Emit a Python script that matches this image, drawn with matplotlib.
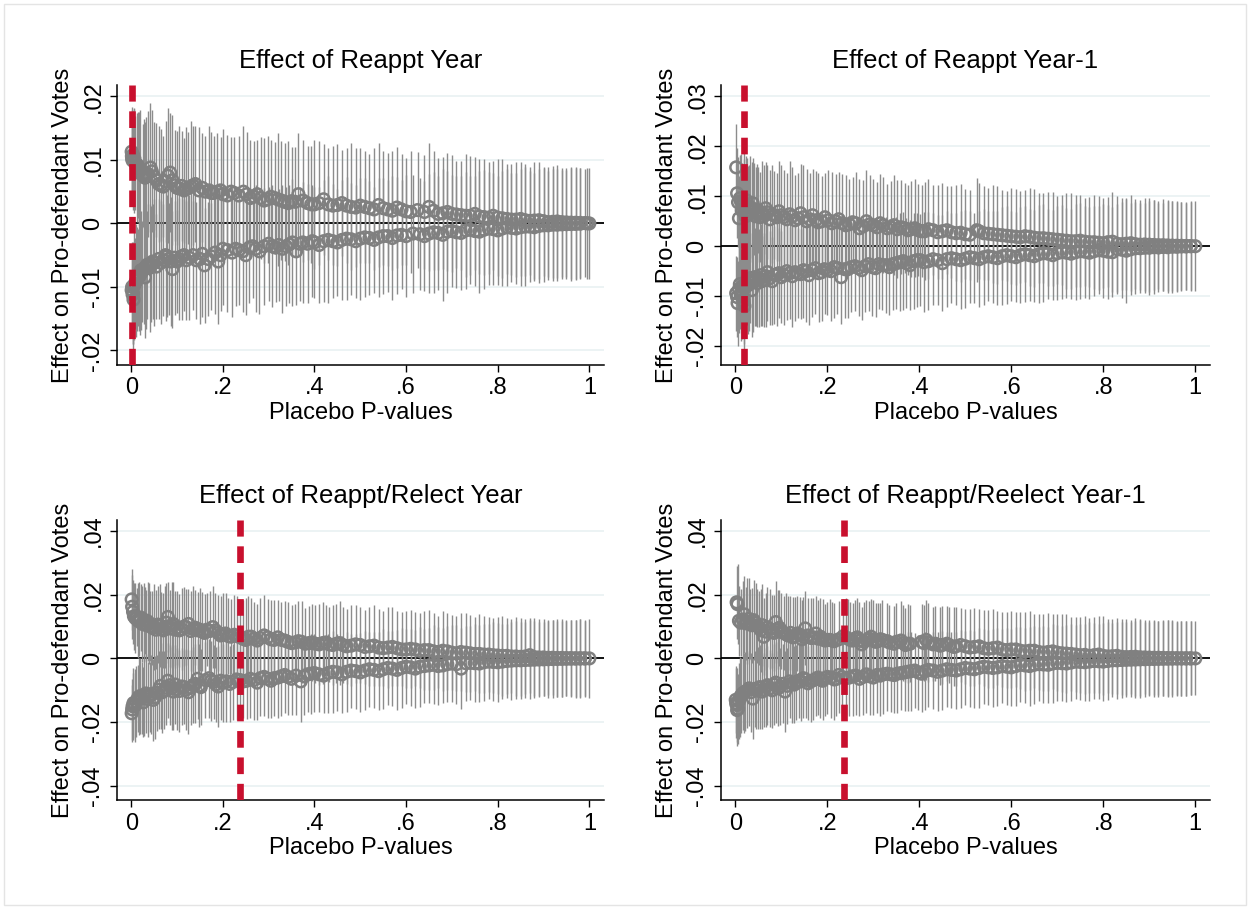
import matplotlib
matplotlib.use("Agg")
import numpy as np
import matplotlib.pyplot as plt
from matplotlib.patches import Rectangle

plt.rcParams['font.family'] = ['Liberation Sans', 'DejaVu Sans']
plt.rcParams['lines.scale_dashes'] = False

# placebo estimates, one (p-value, estimate, CI half width) per run; effects in thousandths
reappt_up = [(0.001, 11.3, 7.0), (0.002, 10.2, 7.5), (0.004, 10.8, 6.8), (0.006, 9.8, 8.2), (0.009, 9.5, 7.4),
             (0.012, 8.8, 8.6), (0.016, 8.0, 7.9), (0.02, 8.4, 9.5), (0.025, 7.6, 8.1), (0.03, 7.2, 8.8),
             (0.036, 7.8, 9.9), (0.042, 8.8, 10.2), (0.05, 7.4, 8.5), (0.06, 6.2, 9.2), (0.07, 5.8, 8.0),
             (0.08, 7.5, 10.6), (0.085, 8.0, 9.4), (0.095, 6.0, 8.7), (0.105, 5.5, 9.8), (0.115, 5.2, 8.3),
             (0.13, 5.8, 10.4), (0.14, 6.2, 9.1), (0.155, 5.6, 8.6), (0.17, 5.2, 10.1), (0.18, 4.8, 9.0),
             (0.195, 5.2, 8.4), (0.21, 4.4, 9.6), (0.225, 4.8, 8.8), (0.245, 5.0, 10.3), (0.26, 4.0, 9.2),
             (0.275, 4.6, 8.5), (0.29, 3.6, 9.9), (0.305, 4.2, 8.9), (0.32, 3.8, 10.5), (0.335, 3.4, 9.3),
             (0.35, 3.5, 8.6), (0.365, 4.6, 9.7), (0.385, 3.2, 9.0), (0.4, 3.0, 10.2), (0.42, 3.8, 8.7),
             (0.44, 2.8, 9.4), (0.46, 3.2, 8.3), (0.48, 2.6, 10.0), (0.5, 2.8, 9.1), (0.52, 2.4, 8.6),
             (0.54, 2.9, 9.8), (0.56, 2.2, 8.9), (0.58, 2.5, 9.5), (0.6, 1.9, 8.4), (0.625, 2.1, 9.2),
             (0.65, 2.6, 10.1), (0.67, 1.5, 8.8), (0.69, 1.8, 9.3), (0.71, 1.4, 8.5), (0.73, 1.2, 9.7),
             (0.75, 1.5, 8.9), (0.77, 1.0, 9.1), (0.79, 1.2, 8.6), (0.81, 0.8, 9.4), (0.83, 0.6, 8.8),
             (0.85, 0.7, 9.0), (0.87, 0.4, 8.5), (0.89, 0.5, 9.2), (0.91, 0.2, 8.7), (0.93, 0.3, 8.9),
             (0.95, 0.15, 8.6), (0.97, 0.1, 8.8), (0.99, 0.05, 8.5), (1.0, 0.0, 8.7),
             (0.0015, 10.6, 7.2), (0.003, 9.9, 7.8), (0.007, 10.2, 8.0), (0.014, 9.2, 8.4), (0.018, 8.6, 9.0),
             (0.028, 7.9, 8.6), (0.033, 7.4, 9.4), (0.045, 8.2, 9.6), (0.055, 6.8, 9.0), (0.065, 6.0, 8.8),
             (0.075, 6.6, 9.6), (0.09, 6.8, 10.2), (0.1, 5.6, 9.0), (0.11, 5.9, 8.6), (0.12, 5.4, 9.8),
             (0.125, 5.6, 8.8), (0.135, 6.0, 9.4), (0.148, 5.2, 10.0), (0.162, 5.0, 8.8), (0.175, 4.8, 9.6),
             (0.188, 5.0, 9.2), (0.2, 4.6, 10.2), (0.218, 5.0, 8.6), (0.235, 4.4, 9.4), (0.252, 4.6, 9.8),
             (0.268, 4.2, 8.8), (0.283, 4.0, 9.6), (0.298, 3.8, 10.0), (0.313, 4.0, 8.8), (0.328, 3.6, 9.4),
             (0.343, 3.2, 9.8), (0.358, 3.4, 8.6), (0.375, 3.6, 9.6), (0.393, 3.0, 9.2), (0.41, 3.2, 9.8),
             (0.43, 3.0, 8.8), (0.45, 2.9, 9.6), (0.47, 2.8, 9.0), (0.49, 2.5, 9.4), (0.51, 2.6, 8.8),
             (0.53, 2.2, 9.6), (0.55, 2.4, 9.0), (0.57, 2.0, 9.4), (0.59, 2.2, 8.8), (0.61, 1.8, 9.6),
             (0.64, 1.8, 9.0), (0.66, 2.0, 9.4), (0.68, 1.6, 8.8), (0.7, 1.5, 9.2), (0.72, 1.3, 8.6),
             (0.74, 1.2, 9.4), (0.76, 1.1, 9.0), (0.78, 0.9, 8.8), (0.8, 0.9, 9.2), (0.82, 0.7, 8.6),
             (0.84, 0.6, 9.0), (0.86, 0.5, 8.8), (0.88, 0.45, 9.2), (0.9, 0.35, 8.6), (0.92, 0.25, 8.8),
             (0.94, 0.2, 8.6), (0.96, 0.12, 8.8), (0.98, 0.08, 8.6), (0.995, 0.02, 8.7)]
reappt_lo = [(0.001, -10.5, 6.5), (0.003, -11.2, 7.8), (0.005, -12.0, 8.4), (0.008, -9.5, 7.2), (0.011, -9.0, 8.9),
             (0.015, -8.5, 7.6), (0.019, -8.2, 9.3), (0.024, -7.6, 8.0), (0.03, -8.5, 9.6), (0.035, -6.5, 8.5),
             (0.04, -7.0, 10.1), (0.047, -6.0, 9.0), (0.055, -6.8, 8.3), (0.065, -6.2, 9.7), (0.075, -5.0, 10.4),
             (0.082, -5.6, 8.8), (0.09, -7.2, 9.2), (0.1, -6.0, 8.1), (0.11, -5.2, 10.0), (0.12, -5.8, 9.4),
             (0.135, -5.0, 8.6), (0.15, -5.6, 10.3), (0.16, -6.6, 9.1), (0.175, -5.2, 8.4), (0.19, -6.0, 9.8),
             (0.2, -4.0, 8.9), (0.22, -4.6, 10.2), (0.235, -4.2, 8.7), (0.25, -5.0, 9.5), (0.265, -3.6, 8.2),
             (0.28, -4.4, 9.9), (0.3, -3.2, 9.0), (0.315, -3.8, 8.6), (0.33, -4.0, 10.1), (0.345, -3.3, 9.3),
             (0.36, -4.4, 8.5), (0.375, -3.0, 9.6), (0.395, -2.8, 8.8), (0.41, -3.4, 9.2), (0.43, -2.6, 10.0),
             (0.45, -3.0, 8.4), (0.47, -2.4, 9.7), (0.49, -2.8, 8.9), (0.51, -2.2, 9.4), (0.53, -2.6, 8.3),
             (0.55, -2.0, 9.1), (0.57, -2.3, 9.8), (0.59, -1.8, 8.6), (0.615, -1.6, 9.3), (0.64, -2.0, 8.7),
             (0.66, -1.4, 9.5), (0.68, -1.8, 10.4), (0.7, -1.2, 8.8), (0.72, -1.5, 9.0), (0.74, -1.0, 8.5),
             (0.76, -1.3, 9.6), (0.78, -0.8, 8.9), (0.8, -1.1, 8.6), (0.82, -0.6, 9.2), (0.84, -0.8, 8.7),
             (0.86, -0.5, 9.4), (0.88, -0.6, 8.5), (0.9, -0.3, 9.0), (0.92, -0.2, 8.8), (0.94, -0.15, 8.6),
             (0.96, -0.1, 8.9), (0.98, -0.05, 8.7),
             (0.002, -10.0, 7.0), (0.004, -11.0, 8.0), (0.006, -9.8, 8.6), (0.013, -8.8, 8.2), (0.017, -8.0, 9.0),
             (0.021, -7.4, 9.4), (0.027, -7.2, 8.6), (0.032, -6.8, 9.8), (0.043, -6.4, 9.2), (0.05, -6.2, 10.0),
             (0.06, -5.6, 9.4), (0.07, -5.8, 8.8), (0.078, -5.2, 9.6), (0.086, -6.0, 10.2), (0.095, -5.4, 9.0),
             (0.105, -5.6, 9.6), (0.115, -5.0, 8.8), (0.127, -5.4, 9.8), (0.142, -5.8, 9.2), (0.155, -4.8, 10.0),
             (0.168, -5.6, 9.0), (0.183, -4.6, 9.6), (0.195, -5.0, 8.8), (0.21, -4.2, 9.8), (0.228, -4.0, 9.0),
             (0.243, -4.4, 9.6), (0.258, -3.8, 8.8), (0.272, -4.0, 10.0), (0.29, -3.6, 9.2), (0.308, -3.6, 9.6),
             (0.322, -3.4, 8.8), (0.338, -3.6, 9.4), (0.352, -3.0, 10.0), (0.368, -3.2, 9.0), (0.385, -3.2, 9.4),
             (0.4, -3.0, 8.8), (0.42, -2.8, 9.6), (0.44, -2.8, 9.0), (0.46, -2.6, 9.4), (0.48, -2.5, 8.8),
             (0.5, -2.4, 9.6), (0.52, -2.3, 9.0), (0.54, -2.2, 9.4), (0.56, -2.0, 8.8), (0.58, -1.9, 9.2),
             (0.6, -2.0, 9.6), (0.63, -1.7, 8.8), (0.65, -1.6, 9.4), (0.67, -1.5, 9.0), (0.69, -1.3, 9.6),
             (0.71, -1.4, 8.8), (0.73, -1.1, 9.2), (0.75, -1.2, 8.6), (0.77, -1.0, 9.4), (0.79, -0.9, 8.8),
             (0.81, -0.8, 9.0), (0.83, -0.7, 8.6), (0.85, -0.6, 9.2), (0.87, -0.5, 8.8), (0.89, -0.4, 9.0),
             (0.91, -0.3, 8.6), (0.93, -0.2, 8.8), (0.95, -0.12, 8.6), (0.97, -0.08, 8.8)]

reappt1_up = [(0.002, 15.8, 8.7), (0.004, 10.6, 9.0), (0.008, 5.6, 8.5), (0.012, 9.0, 9.4), (0.016, 8.2, 8.2),
              (0.02, 7.6, 9.8), (0.024, 9.2, 8.8), (0.028, 6.4, 9.6), (0.033, 7.8, 10.2), (0.038, 8.6, 9.0),
              (0.044, 6.0, 9.8), (0.05, 7.2, 8.6), (0.058, 6.6, 10.4), (0.066, 7.6, 9.2), (0.075, 5.4, 9.8),
              (0.085, 6.2, 8.8), (0.095, 7.0, 10.0), (0.105, 5.8, 9.4), (0.118, 6.4, 10.6), (0.13, 5.2, 9.0),
              (0.142, 6.6, 9.8), (0.155, 5.0, 10.4), (0.168, 6.2, 9.2), (0.18, 4.8, 9.8), (0.195, 5.8, 8.8),
              (0.21, 4.6, 10.2), (0.225, 5.4, 9.4), (0.24, 4.2, 10.0), (0.255, 4.8, 9.0), (0.27, 3.6, 9.8),
              (0.285, 5.0, 10.2), (0.3, 4.2, 9.2), (0.315, 4.6, 9.8), (0.33, 3.6, 8.8), (0.345, 4.2, 10.0),
              (0.36, 3.8, 9.4), (0.375, 3.2, 9.0), (0.39, 3.6, 9.8), (0.405, 3.0, 9.2), (0.42, 3.4, 10.0),
              (0.44, 2.8, 9.4), (0.46, 3.2, 8.8), (0.48, 2.6, 9.6), (0.5, 2.4, 9.0), (0.525, 3.2, 10.4),
              (0.54, 2.6, 9.4), (0.56, 2.4, 9.8), (0.58, 2.2, 9.0), (0.6, 2.0, 9.6), (0.62, 1.8, 9.2),
              (0.64, 1.9, 9.8), (0.66, 1.6, 9.0), (0.68, 1.5, 9.4), (0.7, 1.3, 8.8), (0.72, 1.1, 9.6),
              (0.74, 1.0, 9.2), (0.76, 0.9, 8.8), (0.78, 0.8, 9.4), (0.8, 0.6, 9.0), (0.82, 0.9, 10.0),
              (0.84, 0.4, 9.2), (0.86, 0.6, 9.6), (0.88, 0.3, 9.0), (0.9, 0.3, 9.4), (0.92, 0.2, 8.8),
              (0.94, 0.15, 9.2), (0.96, 0.1, 9.0), (0.98, 0.05, 8.8), (1.0, 0.0, 9.0),
              (0.006, 8.8, 9.0), (0.01, 9.6, 8.6), (0.014, 7.2, 9.4), (0.018, 8.8, 9.8), (0.022, 6.0, 8.8),
              (0.026, 8.0, 9.6), (0.03, 7.2, 9.0), (0.036, 6.8, 10.0), (0.041, 7.4, 9.2), (0.047, 6.6, 9.8),
              (0.054, 5.8, 9.0), (0.062, 6.0, 10.2), (0.07, 6.8, 9.4), (0.08, 6.4, 9.8), (0.09, 5.8, 8.8),
              (0.1, 6.2, 10.0), (0.112, 5.4, 9.2), (0.124, 6.0, 9.8), (0.136, 5.6, 9.0), (0.148, 5.8, 10.4),
              (0.162, 5.4, 9.2), (0.175, 5.2, 9.8), (0.188, 5.0, 9.0), (0.202, 5.2, 10.0), (0.218, 5.0, 9.4),
              (0.232, 4.6, 9.8), (0.248, 4.4, 9.0), (0.262, 4.6, 10.2), (0.278, 4.0, 9.2), (0.292, 4.4, 9.8),
              (0.308, 3.8, 9.0), (0.322, 4.2, 9.6), (0.338, 3.8, 9.2), (0.352, 3.4, 9.8), (0.368, 3.6, 9.0),
              (0.382, 3.4, 9.6), (0.398, 3.2, 9.2), (0.412, 3.0, 9.8), (0.43, 3.2, 9.0), (0.45, 3.0, 9.6),
              (0.47, 2.8, 9.2), (0.49, 2.7, 9.8), (0.51, 2.3, 9.0), (0.53, 3.0, 9.6), (0.55, 2.5, 9.2),
              (0.57, 2.3, 9.8), (0.59, 2.1, 9.0), (0.61, 1.9, 9.6), (0.63, 2.0, 9.2), (0.65, 1.7, 9.8),
              (0.67, 1.6, 9.0), (0.69, 1.4, 9.4), (0.71, 1.2, 9.0), (0.73, 1.0, 9.6), (0.75, 1.1, 9.2),
              (0.77, 0.8, 9.0), (0.79, 0.7, 9.4), (0.81, 0.8, 9.0), (0.83, 0.5, 9.6), (0.85, 0.5, 9.2),
              (0.87, 0.4, 9.0), (0.89, 0.35, 9.4), (0.91, 0.25, 9.0), (0.93, 0.2, 9.2), (0.95, 0.12, 9.0),
              (0.97, 0.08, 8.8), (0.99, 0.02, 9.0)]
reappt1_lo = [(0.002, -9.4, 7.5), (0.005, -11.4, 8.5), (0.01, -7.6, 9.0), (0.014, -9.0, 9.6), (0.018, -11.0, 8.6),
              (0.022, -8.2, 9.8), (0.026, -6.6, 9.2), (0.03, -7.0, 10.0), (0.036, -8.8, 9.4), (0.042, -6.2, 9.8),
              (0.048, -7.4, 8.8), (0.055, -5.8, 10.2), (0.062, -6.8, 9.4), (0.07, -5.2, 9.8), (0.08, -7.0, 8.8),
              (0.09, -5.6, 10.4), (0.1, -6.2, 9.2), (0.112, -5.0, 9.8), (0.124, -6.0, 10.2), (0.136, -5.4, 9.0),
              (0.148, -4.8, 9.6), (0.16, -5.8, 10.0), (0.174, -4.4, 9.2), (0.188, -5.2, 9.8), (0.2, -4.8, 9.0),
              (0.215, -4.2, 10.2), (0.23, -6.2, 9.4), (0.245, -4.6, 9.8), (0.26, -4.0, 9.0), (0.275, -4.8, 10.0),
              (0.29, -3.6, 9.4), (0.305, -4.4, 9.8), (0.32, -3.8, 9.0), (0.335, -4.2, 9.6), (0.35, -3.4, 9.2),
              (0.365, -3.0, 9.8), (0.38, -3.8, 9.0), (0.395, -2.8, 9.4), (0.41, -3.2, 10.0), (0.43, -2.6, 9.2),
              (0.45, -3.4, 9.6), (0.47, -2.4, 9.0), (0.49, -2.8, 9.8), (0.51, -2.2, 9.2), (0.53, -2.6, 9.6),
              (0.55, -2.0, 9.0), (0.57, -2.4, 9.4), (0.59, -1.8, 9.8), (0.61, -2.2, 9.0), (0.63, -1.6, 9.6),
              (0.65, -2.0, 9.2), (0.67, -1.4, 9.8), (0.69, -1.8, 9.0), (0.71, -1.2, 9.4), (0.73, -1.5, 9.0),
              (0.75, -1.0, 9.6), (0.77, -1.3, 9.2), (0.79, -0.8, 8.8), (0.81, -1.1, 9.4), (0.83, -0.6, 9.0),
              (0.85, -0.9, 10.4), (0.87, -0.4, 9.2), (0.89, -0.3, 9.0), (0.91, -0.2, 9.4), (0.93, -0.15, 8.8),
              (0.95, -0.1, 9.2), (0.97, -0.05, 9.0), (0.99, 0.0, 8.8),
              (0.004, -10.2, 8.0), (0.008, -8.6, 8.8), (0.012, -9.8, 9.2), (0.016, -8.0, 9.6), (0.02, -12.0, 8.6),
              (0.024, -7.6, 9.4), (0.028, -7.8, 9.8), (0.033, -6.4, 9.0), (0.039, -7.2, 10.0), (0.045, -6.8, 9.2),
              (0.052, -6.4, 9.8), (0.058, -7.0, 9.0), (0.066, -6.0, 10.2), (0.075, -6.4, 9.4), (0.085, -5.8, 9.8),
              (0.095, -5.4, 9.0), (0.106, -5.8, 10.0), (0.118, -5.4, 9.2), (0.13, -5.2, 9.8), (0.142, -5.6, 9.0),
              (0.154, -5.0, 10.2), (0.167, -4.8, 9.4), (0.181, -5.4, 9.8), (0.194, -4.6, 9.0), (0.208, -5.0, 10.0),
              (0.222, -4.4, 9.2), (0.238, -4.6, 9.8), (0.252, -4.2, 9.0), (0.268, -4.4, 9.6), (0.282, -4.0, 9.2),
              (0.298, -4.2, 9.8), (0.312, -3.6, 9.0), (0.328, -3.8, 9.6), (0.342, -3.6, 9.2), (0.358, -3.2, 9.8),
              (0.372, -3.4, 9.0), (0.388, -3.0, 9.6), (0.402, -2.8, 9.2), (0.42, -3.0, 9.8), (0.44, -2.8, 9.0),
              (0.46, -2.6, 9.6), (0.48, -2.6, 9.2), (0.5, -2.5, 9.8), (0.52, -2.4, 9.0), (0.54, -2.2, 9.6),
              (0.56, -2.2, 9.2), (0.58, -2.0, 9.8), (0.6, -2.0, 9.0), (0.62, -1.8, 9.6), (0.64, -1.8, 9.2),
              (0.66, -1.6, 9.8), (0.68, -1.5, 9.0), (0.7, -1.4, 9.4), (0.72, -1.3, 9.0), (0.74, -1.2, 9.6),
              (0.76, -1.1, 9.2), (0.78, -1.0, 9.0), (0.8, -0.9, 9.4), (0.82, -1.2, 9.0), (0.84, -0.7, 9.6),
              (0.86, -0.6, 9.2), (0.88, -0.4, 9.0), (0.9, -0.3, 9.4), (0.92, -0.25, 9.0), (0.94, -0.2, 9.2),
              (0.96, -0.12, 9.0), (0.98, -0.06, 8.8)]

relect_up = [(0.001, 18.5, 9.5), (0.002, 16.2, 10.0), (0.006, 13.2, 10.5), (0.012, 13.0, 9.0), (0.018, 12.4, 11.5),
             (0.024, 10.8, 12.0), (0.03, 12.0, 10.5), (0.036, 11.6, 12.5), (0.042, 10.2, 11.0), (0.05, 9.8, 13.5),
             (0.058, 10.6, 12.0), (0.066, 9.2, 11.5), (0.074, 9.8, 12.8), (0.08, 13.0, 11.0), (0.088, 10.4, 13.5),
             (0.096, 9.0, 12.0), (0.105, 8.8, 11.5), (0.115, 10.0, 12.5), (0.125, 10.8, 11.0), (0.135, 9.2, 13.5),
             (0.145, 8.8, 12.0), (0.155, 8.4, 12.5), (0.165, 9.0, 11.5), (0.178, 9.8, 12.8), (0.19, 8.0, 11.8),
             (0.2, 7.6, 13.0), (0.212, 7.0, 12.0), (0.225, 7.4, 12.6), (0.238, 6.6, 11.8), (0.25, 5.8, 13.2),
             (0.262, 6.8, 12.0), (0.275, 5.6, 11.4), (0.29, 7.2, 12.8), (0.305, 6.0, 12.2), (0.32, 6.6, 11.6),
             (0.335, 5.6, 12.4), (0.35, 4.8, 11.8), (0.365, 5.4, 12.6), (0.38, 4.6, 11.2), (0.395, 5.0, 12.0),
             (0.41, 4.4, 12.8), (0.425, 5.0, 11.6), (0.44, 4.2, 12.4), (0.455, 4.8, 13.2), (0.47, 3.8, 11.8),
             (0.49, 4.4, 12.2), (0.51, 3.6, 11.6), (0.53, 4.0, 12.6), (0.55, 3.2, 11.8), (0.57, 3.6, 12.4),
             (0.59, 2.8, 11.6), (0.61, 3.0, 12.2), (0.63, 2.4, 11.8), (0.65, 2.6, 12.6), (0.67, 2.0, 11.4),
             (0.69, 2.2, 12.0), (0.71, 1.6, 11.8), (0.73, 1.8, 12.4), (0.75, 1.4, 11.6), (0.77, 1.2, 12.2),
             (0.79, 1.0, 11.8), (0.81, 0.8, 12.6), (0.83, 0.6, 11.6), (0.85, 0.5, 12.2), (0.87, 1.0, 11.8),
             (0.89, 0.3, 12.0), (0.91, 0.2, 11.6), (0.93, 0.15, 12.2), (0.95, 0.1, 11.8), (0.97, 0.05, 12.0),
             (1.0, 0.0, 12.4),
             (0.004, 14.6, 10.0), (0.009, 12.6, 11.0), (0.015, 11.8, 11.8), (0.021, 12.8, 10.6), (0.027, 11.2, 12.4),
             (0.033, 10.4, 11.2), (0.039, 11.0, 12.8), (0.046, 9.6, 11.6), (0.054, 9.0, 12.4), (0.062, 10.2, 13.0),
             (0.07, 8.8, 11.8), (0.077, 11.2, 12.6), (0.084, 9.4, 12.0), (0.092, 10.8, 13.2), (0.1, 9.6, 11.6),
             (0.11, 9.2, 12.8), (0.12, 9.8, 12.0), (0.13, 8.6, 12.6), (0.14, 9.6, 11.8), (0.15, 9.0, 13.0),
             (0.16, 8.0, 12.2), (0.172, 8.6, 12.6), (0.184, 8.8, 11.8), (0.195, 7.2, 12.4), (0.206, 7.8, 12.8),
             (0.218, 6.8, 11.8), (0.232, 7.0, 12.6), (0.244, 6.2, 12.0), (0.256, 6.8, 12.8), (0.268, 6.2, 11.6),
             (0.282, 6.4, 12.4), (0.298, 6.6, 12.0), (0.312, 5.8, 12.6), (0.328, 5.8, 11.8), (0.342, 5.2, 12.4),
             (0.358, 5.0, 12.0), (0.372, 5.2, 12.8), (0.388, 4.8, 11.6), (0.402, 4.6, 12.2), (0.418, 4.8, 12.8),
             (0.432, 4.4, 11.8), (0.448, 4.6, 12.4), (0.462, 4.2, 12.0), (0.48, 4.0, 12.6), (0.5, 4.2, 11.8),
             (0.52, 3.8, 12.4), (0.54, 3.4, 12.0), (0.56, 3.4, 12.6), (0.58, 3.2, 11.8), (0.6, 2.8, 12.2),
             (0.62, 2.8, 11.6), (0.64, 2.6, 12.4), (0.66, 2.2, 12.0), (0.68, 2.4, 12.6), (0.7, 1.8, 11.8),
             (0.72, 2.0, 12.2), (0.74, 1.6, 12.0), (0.76, 1.4, 12.4), (0.78, 1.2, 11.8), (0.8, 0.9, 12.2),
             (0.82, 0.8, 12.0), (0.84, 0.6, 12.4), (0.86, 0.6, 11.8), (0.88, 0.4, 12.2), (0.9, 0.3, 12.0),
             (0.92, 0.2, 11.8), (0.94, 0.15, 12.2), (0.96, 0.1, 12.0), (0.98, 0.05, 12.2), (0.99, 0.02, 11.8)]
relect_lo = [(0.001, -17.2, 9.0), (0.003, -15.0, 10.5), (0.008, -14.8, 11.5), (0.014, -12.6, 10.5), (0.02, -11.8, 12.0),
             (0.026, -13.8, 11.0), (0.032, -11.0, 12.5), (0.04, -12.0, 11.0), (0.048, -13.0, 12.8), (0.056, -10.8, 12.0),
             (0.064, -8.6, 13.5), (0.072, -10.0, 12.2), (0.08, -7.0, 11.8), (0.088, -9.4, 13.0), (0.096, -8.2, 12.4),
             (0.105, -10.2, 12.8), (0.115, -9.0, 11.6), (0.125, -10.6, 13.2), (0.135, -8.4, 12.0), (0.145, -6.4, 12.6),
             (0.152, -9.0, 11.8), (0.17, -6.2, 12.4), (0.18, -7.4, 11.6), (0.19, -8.8, 12.8), (0.2, -7.6, 12.2),
             (0.215, -8.0, 11.8), (0.23, -6.6, 12.6), (0.245, -7.2, 11.4), (0.26, -6.4, 12.2), (0.275, -7.6, 11.8),
             (0.29, -5.8, 12.4), (0.305, -7.0, 11.6), (0.32, -6.0, 12.8), (0.335, -5.2, 12.0), (0.35, -6.4, 11.4),
             (0.37, -7.2, 12.6), (0.385, -5.0, 11.8), (0.4, -4.6, 12.2), (0.42, -5.4, 11.6), (0.44, -4.2, 12.8),
             (0.46, -5.0, 12.0), (0.48, -3.8, 11.6), (0.5, -4.4, 12.4), (0.52, -3.4, 11.8), (0.54, -4.0, 12.2),
             (0.56, -3.0, 11.6), (0.58, -3.6, 12.6), (0.6, -2.6, 11.8), (0.62, -3.2, 12.2), (0.64, -2.4, 11.6),
             (0.66, -2.0, 12.4), (0.68, -2.2, 11.8), (0.7, -1.6, 12.0), (0.72, -3.2, 12.6), (0.74, -1.4, 11.6),
             (0.76, -1.6, 12.2), (0.78, -1.0, 11.8), (0.8, -1.2, 12.4), (0.82, -0.8, 11.6), (0.84, -0.6, 12.2),
             (0.86, -0.5, 11.8), (0.88, -0.4, 12.0), (0.9, -0.3, 11.6), (0.92, -0.2, 12.2), (0.94, -0.15, 11.8),
             (0.96, -0.1, 12.0), (0.98, -0.05, 12.4),
             (0.002, -16.0, 9.6), (0.005, -14.0, 11.0), (0.011, -13.6, 11.2), (0.017, -12.0, 12.0), (0.023, -12.4, 11.4),
             (0.029, -11.6, 12.6), (0.036, -12.8, 11.8), (0.044, -11.2, 12.4), (0.052, -12.2, 13.0), (0.06, -9.8, 12.2),
             (0.068, -10.6, 12.8), (0.076, -9.2, 11.8), (0.084, -8.4, 12.6), (0.092, -10.4, 12.0), (0.1, -9.6, 13.0),
             (0.11, -8.8, 12.2), (0.12, -9.8, 12.6), (0.13, -9.2, 11.8), (0.14, -8.0, 12.4), (0.148, -8.6, 13.0),
             (0.162, -6.8, 12.0), (0.175, -7.0, 12.6), (0.185, -8.2, 11.8), (0.195, -7.0, 12.4), (0.208, -7.2, 12.8),
             (0.222, -7.4, 11.8), (0.238, -6.8, 12.4), (0.252, -7.0, 12.0), (0.268, -6.8, 12.6), (0.282, -6.2, 11.8),
             (0.298, -6.4, 12.4), (0.312, -6.2, 12.0), (0.328, -5.6, 12.6), (0.342, -5.8, 11.8), (0.36, -5.4, 12.4),
             (0.378, -5.6, 12.0), (0.392, -4.8, 12.6), (0.41, -5.0, 11.8), (0.43, -4.6, 12.4), (0.45, -4.4, 12.0),
             (0.47, -4.2, 12.6), (0.49, -4.0, 11.8), (0.51, -3.8, 12.4), (0.53, -3.6, 12.0), (0.55, -3.4, 12.6),
             (0.57, -3.2, 11.8), (0.59, -3.0, 12.4), (0.61, -2.8, 12.0), (0.63, -2.6, 12.6), (0.65, -2.2, 11.8),
             (0.67, -2.4, 12.2), (0.69, -1.8, 12.0), (0.71, -1.8, 12.4), (0.73, -1.5, 11.8), (0.75, -1.5, 12.2),
             (0.77, -1.2, 12.0), (0.79, -1.1, 12.4), (0.81, -1.0, 11.8), (0.83, -0.7, 12.2), (0.85, -0.6, 12.0),
             (0.87, -0.45, 12.4), (0.89, -0.35, 11.8), (0.91, -0.25, 12.2), (0.93, -0.18, 12.0), (0.95, -0.12, 11.8),
             (0.97, -0.07, 12.2), (0.99, -0.02, 12.0)]

reelect1_up = [(0.003, 17.6, 11.5), (0.005, 17.0, 12.5), (0.012, 11.2, 10.5), (0.02, 13.8, 12.0), (0.026, 11.6, 13.5),
               (0.032, 10.8, 11.0), (0.04, 12.0, 12.5), (0.048, 10.2, 11.5), (0.056, 8.8, 13.0), (0.062, 6.8, 12.0),
               (0.07, 9.8, 12.6), (0.08, 8.4, 11.4), (0.088, 11.4, 12.8), (0.096, 9.6, 12.0), (0.105, 8.0, 11.6),
               (0.115, 7.2, 12.4), (0.125, 6.6, 12.8), (0.135, 7.8, 11.8), (0.145, 6.0, 12.2), (0.152, 9.4, 11.6),
               (0.165, 6.4, 12.6), (0.175, 7.8, 11.8), (0.185, 6.8, 12.2), (0.195, 5.6, 11.4), (0.205, 5.8, 12.8),
               (0.215, 5.4, 12.0), (0.235, 7.0, 11.6), (0.245, 6.2, 12.4), (0.255, 5.6, 11.8), (0.265, 6.6, 12.2),
               (0.275, 4.4, 11.6), (0.285, 5.8, 12.6), (0.295, 6.8, 11.8), (0.305, 5.2, 12.2), (0.315, 6.0, 11.4),
               (0.33, 5.4, 12.0), (0.345, 4.6, 11.8), (0.36, 5.6, 12.4), (0.37, 4.2, 11.6), (0.38, 4.6, 12.0),
               (0.405, 5.2, 11.8), (0.415, 5.8, 12.6), (0.43, 4.4, 11.6), (0.445, 4.0, 12.2), (0.46, 4.6, 11.8),
               (0.475, 3.6, 12.4), (0.49, 4.2, 11.6), (0.51, 3.4, 12.0), (0.53, 3.8, 11.8), (0.55, 3.0, 12.2),
               (0.57, 3.4, 11.6), (0.59, 2.6, 12.0), (0.61, 2.8, 11.8), (0.63, 2.2, 12.4), (0.65, 2.4, 11.6),
               (0.67, 1.8, 12.0), (0.69, 2.2, 11.8), (0.71, 1.6, 12.2), (0.73, 1.4, 11.6), (0.75, 1.0, 12.0),
               (0.77, 0.8, 11.8), (0.79, 1.2, 12.2), (0.81, 0.6, 11.6), (0.83, 0.8, 12.0), (0.85, 0.4, 11.8),
               (0.87, 0.5, 12.2), (0.89, 0.3, 11.6), (0.91, 0.2, 11.8), (0.93, 0.15, 12.0), (0.95, 0.1, 11.6),
               (0.97, 0.05, 11.8), (1.0, 0.0, 11.6),
               (0.008, 11.8, 11.0), (0.016, 12.2, 12.2), (0.023, 11.0, 11.4), (0.029, 12.4, 12.8), (0.036, 10.4, 11.8),
               (0.044, 11.2, 12.4), (0.052, 9.6, 11.6), (0.059, 10.4, 12.8), (0.066, 8.4, 12.0), (0.075, 9.2, 12.6),
               (0.084, 8.0, 11.8), (0.092, 9.0, 12.4), (0.1, 8.6, 12.0), (0.11, 7.6, 12.8), (0.12, 8.0, 11.6),
               (0.13, 7.0, 12.4), (0.14, 7.4, 12.0), (0.148, 6.8, 12.6), (0.158, 7.2, 11.8), (0.17, 6.6, 12.4),
               (0.18, 6.2, 12.0), (0.19, 6.0, 12.6), (0.2, 5.8, 11.8), (0.21, 5.6, 12.2), (0.225, 6.0, 12.0),
               (0.24, 6.6, 12.4), (0.25, 5.8, 11.8), (0.26, 6.2, 12.2), (0.27, 5.6, 12.0), (0.28, 5.2, 12.6),
               (0.29, 6.2, 11.8), (0.3, 5.8, 12.4), (0.31, 5.4, 12.0), (0.32, 5.8, 12.4), (0.335, 5.0, 11.8),
               (0.35, 5.2, 12.2), (0.365, 4.8, 12.0), (0.375, 4.6, 12.4), (0.41, 4.8, 12.0), (0.42, 5.0, 12.4),
               (0.435, 4.6, 11.8), (0.45, 4.2, 12.2), (0.465, 4.2, 12.0), (0.48, 3.8, 12.4), (0.5, 3.8, 11.8),
               (0.52, 3.6, 12.2), (0.54, 3.2, 12.0), (0.56, 3.2, 12.4), (0.58, 2.8, 11.8), (0.6, 2.8, 12.2),
               (0.62, 2.4, 12.0), (0.64, 2.4, 12.4), (0.66, 2.0, 11.8), (0.68, 2.0, 12.2), (0.7, 1.8, 12.0),
               (0.72, 1.5, 12.4), (0.74, 1.2, 11.8), (0.76, 1.1, 12.2), (0.78, 1.0, 12.0), (0.8, 0.8, 12.4),
               (0.82, 0.7, 11.8), (0.84, 0.5, 12.0), (0.86, 0.45, 11.6), (0.88, 0.35, 12.0), (0.9, 0.25, 11.8),
               (0.92, 0.2, 11.6), (0.94, 0.12, 11.8), (0.96, 0.08, 11.6), (0.98, 0.04, 11.8), (0.99, 0.02, 11.6)]
reelect1_lo = [(0.001, -13.0, 10.5), (0.003, -14.6, 11.5), (0.006, -15.8, 11.0), (0.01, -12.2, 12.5), (0.016, -11.0, 11.6),
               (0.022, -10.4, 12.4), (0.03, -9.4, 11.8), (0.038, -12.6, 12.6), (0.046, -10.0, 12.0), (0.054, -9.0, 13.2),
               (0.062, -9.8, 11.6), (0.07, -8.4, 12.4), (0.08, -10.0, 11.8), (0.088, -7.6, 12.8), (0.098, -8.8, 12.0),
               (0.108, -10.4, 12.6), (0.118, -7.2, 11.6), (0.128, -8.2, 12.2), (0.138, -7.0, 11.8), (0.148, -6.2, 12.6),
               (0.158, -7.8, 11.6), (0.17, -6.8, 12.4), (0.18, -6.0, 11.8), (0.19, -7.0, 12.2), (0.2, -5.8, 11.6),
               (0.215, -6.6, 12.8), (0.225, -5.2, 12.0), (0.24, -6.2, 11.6), (0.255, -5.6, 12.4), (0.27, -6.4, 11.8),
               (0.285, -5.0, 12.2), (0.3, -6.0, 11.6), (0.315, -5.4, 12.6), (0.33, -4.8, 11.8), (0.345, -5.2, 12.0),
               (0.36, -4.6, 11.6), (0.375, -4.2, 12.4), (0.39, -3.8, 11.8), (0.405, -4.8, 12.0), (0.42, -3.6, 11.6),
               (0.44, -4.2, 12.4), (0.46, -3.4, 11.8), (0.48, -3.8, 12.2), (0.5, -3.0, 11.6), (0.52, -3.4, 12.0),
               (0.54, -2.6, 11.8), (0.56, -3.0, 12.2), (0.58, -2.4, 11.6), (0.6, -2.8, 12.0), (0.62, -2.0, 11.8),
               (0.64, -2.4, 12.4), (0.66, -1.8, 11.6), (0.68, -2.0, 12.0), (0.7, -1.4, 11.8), (0.72, -1.6, 12.2),
               (0.74, -1.0, 11.6), (0.76, -1.2, 12.0), (0.78, -0.8, 11.8), (0.8, -1.0, 12.2), (0.82, -0.6, 11.6),
               (0.84, -0.5, 12.0), (0.86, -0.4, 11.8), (0.88, -0.3, 12.2), (0.9, -0.2, 11.6), (0.92, -0.15, 11.8),
               (0.94, -0.1, 12.0), (0.96, -0.05, 11.6), (0.98, -0.02, 11.8),
               (0.002, -14.0, 11.0), (0.004, -16.2, 11.4), (0.008, -13.4, 12.0), (0.013, -11.6, 11.8), (0.019, -10.8, 12.6),
               (0.026, -10.0, 11.8), (0.034, -10.6, 12.4), (0.042, -9.6, 12.0), (0.05, -9.2, 12.8), (0.058, -10.4, 11.6),
               (0.066, -9.0, 12.4), (0.075, -9.4, 12.0), (0.084, -8.2, 12.6), (0.093, -9.4, 11.8), (0.103, -8.0, 12.4),
               (0.113, -8.6, 12.0), (0.123, -7.8, 12.6), (0.133, -7.6, 11.8), (0.143, -7.2, 12.4), (0.153, -6.6, 12.0),
               (0.164, -7.2, 12.6), (0.175, -6.4, 11.8), (0.185, -6.6, 12.2), (0.195, -6.2, 12.0), (0.208, -6.0, 12.6),
               (0.22, -6.4, 11.8), (0.232, -5.8, 12.2), (0.248, -6.0, 12.0), (0.262, -5.4, 12.4), (0.278, -5.8, 11.8),
               (0.292, -5.6, 12.2), (0.308, -5.2, 12.0), (0.322, -5.0, 12.4), (0.338, -5.0, 11.8), (0.352, -4.8, 12.2),
               (0.368, -4.4, 12.0), (0.382, -4.0, 12.4), (0.398, -4.4, 11.8), (0.412, -4.0, 12.2), (0.43, -3.8, 12.0),
               (0.45, -3.8, 12.4), (0.47, -3.6, 11.8), (0.49, -3.4, 12.2), (0.51, -3.2, 12.0), (0.53, -3.0, 12.4),
               (0.55, -2.8, 11.8), (0.57, -2.8, 12.2), (0.59, -2.6, 12.0), (0.61, -2.4, 12.4), (0.63, -2.2, 11.8),
               (0.65, -2.0, 12.2), (0.67, -1.9, 12.0), (0.69, -1.6, 12.4), (0.71, -1.5, 11.8), (0.73, -1.3, 12.2),
               (0.75, -1.1, 12.0), (0.77, -1.0, 12.4), (0.79, -0.9, 11.8), (0.81, -0.8, 12.2), (0.83, -0.6, 12.0),
               (0.85, -0.45, 11.8), (0.87, -0.35, 12.0), (0.89, -0.25, 11.8), (0.91, -0.18, 12.0), (0.93, -0.12, 11.8),
               (0.95, -0.08, 12.0), (0.97, -0.04, 11.8), (0.99, -0.01, 11.6)]

titles = ['Effect of Reappt Year', 'Effect of Reappt Year-1',
          'Effect of Reappt/Relect Year', 'Effect of Reappt/Reelect Year-1']
actual_p = [0.002, 0.019, 0.237, 0.237]
yticks = [[-0.02, -0.01, 0, 0.01, 0.02],
          [-0.02, -0.01, 0, 0.01, 0.02, 0.03],
          [-0.04, -0.02, 0, 0.02, 0.04],
          [-0.04, -0.02, 0, 0.02, 0.04]]
ytick_labels = [['-.02', '-.01', '0', '.01', '.02'],
                ['-.02', '-.01', '0', '.01', '.02', '.03'],
                ['-.04', '-.02', '0', '.02', '.04'],
                ['-.04', '-.02', '0', '.02', '.04']]
ylims = [(-0.0223, 0.0218), (-0.0238, 0.0323), (-0.0444, 0.0434), (-0.0444, 0.0434)]
xticks = [0, 0.2, 0.4, 0.6, 0.8, 1]
xtick_labels = ['0', '.2', '.4', '.6', '.8', '1']
branches = [(reappt_up, reappt_lo), (reappt1_up, reappt1_lo),
            (relect_up, relect_lo), (reelect1_up, reelect1_lo)]

W, H = 1250, 909
fig = plt.figure(figsize=(12.5, 9.09), dpi=100)
fig.patches.append(Rectangle((0.003, 0.004), 0.994, 0.992, transform=fig.transFigure,
                             fill=False, edgecolor='#e4e4e4', lw=1))
boxes = [(117, 85, 604), (721, 85, 1210), (117, 520, 604), (721, 520, 1210)]

for i, (left, top, right) in enumerate(boxes):
    ax = fig.add_axes([left / W, 1 - (top + 280) / H, (right - left) / W, 280 / H])
    for branch in branches[i]:
        arr = np.array(branch)
        p = arr[:, 0]
        est = arr[:, 1] / 1000
        hw = arr[:, 2] / 1000
        ax.vlines(p, est - hw, est + hw, colors='#8c8c8c', lw=1.0, zorder=2)
        ax.scatter(p, est, s=70, facecolors='none', edgecolors='#808080', linewidths=1.8, zorder=3)
    ax.axhline(0, color='black', lw=1.3, zorder=1.5)
    ax.axvline(actual_p[i], color='#c8102e', lw=4.8, dashes=(12, 7), zorder=4)
    ax.set_xlim(-0.031, 1.032)
    ax.set_ylim(*ylims[i])
    ax.set_xticks(xticks)
    ax.set_xticklabels(xtick_labels)
    ax.set_yticks(yticks[i])
    ax.set_yticklabels(ytick_labels[i], rotation=90, va='center')
    ax.yaxis.grid(True, color='#eaf2f3', lw=1.3, zorder=0)
    ax.set_axisbelow(True)
    for s in ['top', 'right']:
        ax.spines[s].set_visible(False)
    for s in ['left', 'bottom']:
        ax.spines[s].set_linewidth(1.1)
    ax.tick_params(direction='out', length=5, width=1, labelsize=17, pad=4)
    ax.set_title(titles[i], fontsize=18.5, pad=12)
    ax.set_xlabel('Placebo P-values', fontsize=17, labelpad=2)
    ax.set_ylabel('Effect on Pro-defendant Votes', fontsize=17, labelpad=6)

fig.savefig('out.png', dpi=100, facecolor='white')
